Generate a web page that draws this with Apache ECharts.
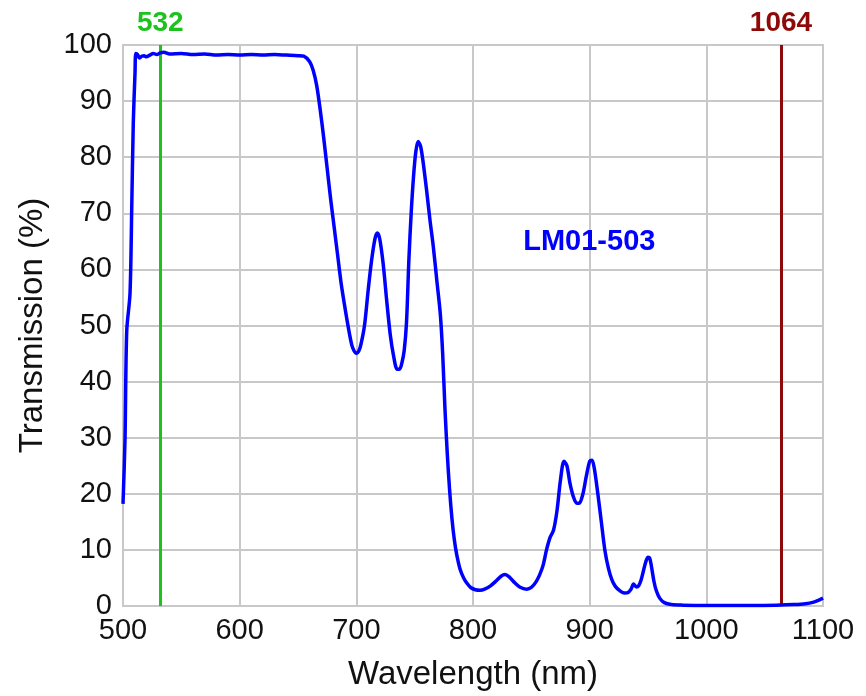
<!DOCTYPE html>
<html>
<head>
<meta charset="utf-8">
<script src="https://cdn.jsdelivr.net/npm/echarts@6/dist/echarts.min.js"></script>
<style>html,body{margin:0;padding:0;background:#fff;}#c{width:866px;height:696px;}</style>
</head>
<body>
<div id="c"></div>
<script>
var wavelengths = [500, 501.7, 503.2, 506, 507.5, 508.8, 510.3, 511, 512.5, 514, 516, 518, 520, 523, 526, 529, 532, 535, 540, 550, 560, 570, 580, 590, 600, 610, 620, 630, 640, 650, 655, 660, 663, 666, 669, 672, 675, 678, 681, 684, 687, 690, 693, 696, 698, 700, 702, 704, 707, 710, 713, 716, 718, 720, 723, 726, 729, 732, 735, 737, 739, 741, 743, 745, 747, 749, 751, 753, 755, 757, 760, 763, 766, 769, 772, 774, 776, 778, 780, 782, 784, 786, 789, 792, 795, 798, 802, 806, 810, 815, 820, 824, 827.5, 831, 835, 840, 846, 850, 854, 857, 860, 863, 866, 869, 872, 875, 878, 880.5, 883, 886, 889, 891, 894, 897, 900, 902, 904, 907, 910, 913, 916, 919, 922, 926, 930, 933, 935.5, 937.6, 940, 942, 944, 946, 948, 950, 951.5, 953, 955, 957, 960, 964, 970, 980, 1000, 1020, 1040, 1060, 1075, 1085, 1092, 1097, 1100];
var transmission = [18.2, 29.5, 49, 55.7, 71, 86, 95, 98.5, 98.3, 97.7, 98, 98.1, 97.9, 98.2, 98.5, 98.3, 98.6, 98.7, 98.4, 98.5, 98.3, 98.4, 98.2, 98.3, 98.2, 98.3, 98.2, 98.3, 98.2, 98.1, 98, 97, 95.5, 92.8, 88.5, 83.5, 78, 72.5, 67.5, 62.5, 57.5, 53.5, 49.8, 46.6, 45.5, 45, 45.4, 46.7, 50, 56, 61.5, 65.5, 66.5, 65.5, 61, 54.5, 48.5, 44.5, 42.2, 42.2, 43.3, 45.5, 50.5, 61.5, 70, 76.5, 81, 82.8, 82, 79.5, 74.5, 69, 64, 58, 52, 45, 35, 27, 20.5, 15.5, 11.8, 9.2, 6.5, 5, 4, 3.3, 2.9, 2.8, 3.0, 3.6, 4.5, 5.3, 5.6, 5.2, 4.3, 3.4, 3.0, 3.3, 4.3, 5.5, 7.2, 10, 12.2, 13.5, 17, 22.5, 25.8, 25, 22, 19.5, 18.3, 18.3, 19.8, 23, 25.8, 26, 24.5, 20, 15, 10, 6.8, 4.7, 3.5, 2.7, 2.3, 2.4, 3.0, 3.9, 3.4, 3.6, 4.6, 6.2, 7.8, 8.7, 8.5, 7, 4.5, 2.8, 1.4, 0.6, 0.25, 0.15, 0.1, 0.1, 0.1, 0.15, 0.25, 0.4, 0.7, 1.1, 1.4];
var laserLines = [532, 1064];
var laserLabels = ['532', '1064'];
var seriesName = 'LM01-503';
var xTicks = {min: 500, max: 1100, step: 100};
var yTicks = {min: 0, max: 100, step: 10};

var curve = wavelengths.map(function (w, i) { return [w, transmission[i]]; });
var laserColors = ['#1ec21e', '#8e0a0a'];
var chart = echarts.init(document.getElementById('c'), null, {renderer: 'canvas'});
var font = '"Liberation Sans", Arial, sans-serif';
chart.setOption({
  backgroundColor: '#fff',
  animation: false,
  grid: {left: 123, right: 43, top: 45, bottom: 89, show: true, borderColor: '#c8c8c8', borderWidth: 2},
  xAxis: {
    type: 'value', min: xTicks.min, max: xTicks.max, interval: xTicks.step,
    name: 'Wavelength (nm)', nameLocation: 'middle', nameGap: 52,
    nameTextStyle: {fontFamily: font, fontSize: 33, color: '#111'},
    axisLine: {show: true, lineStyle: {color: '#c8c8c8', width: 2}},
    axisTick: {show: false},
    axisLabel: {fontFamily: font, fontSize: 29, color: '#111', margin: 10,
                formatter: function (v) { return String(v); }},
    splitLine: {show: true, lineStyle: {color: '#c8c8c8', width: 2}}
  },
  yAxis: {
    type: 'value', min: yTicks.min, max: yTicks.max, interval: yTicks.step,
    name: 'Transmission (%)', nameLocation: 'middle', nameGap: 74,
    nameTextStyle: {fontFamily: font, fontSize: 33, color: '#111'},
    axisLine: {show: true, lineStyle: {color: '#c8c8c8', width: 2}},
    axisTick: {show: false},
    axisLabel: {fontFamily: font, fontSize: 29, color: '#111', margin: 11},
    splitLine: {show: true, lineStyle: {color: '#c8c8c8', width: 2}}
  },
  series: [{
    name: seriesName,
    type: 'line',
    data: curve,
    showSymbol: false,
    smooth: 0.3,
    lineStyle: {color: '#0000ff', width: 3.5},
    z: 5,
    markLine: {
      silent: true, symbol: 'none',
      data: laserLines.map(function (w, i) {
        return {
          xAxis: w,
          lineStyle: {color: laserColors[i], width: 3, type: 'solid'},
          label: {show: true, position: 'end', formatter: laserLabels[i], color: laserColors[i],
                  fontFamily: font, fontWeight: 'bold', fontSize: 28, distance: 8}
        };
      })
    },
    markPoint: {
      silent: true,
      symbol: 'circle', symbolSize: 0,
      data: [{coord: [899.7, 64.9], value: seriesName,
        label: {show: true, position: 'inside', formatter: seriesName, color: '#0000ff',
                fontFamily: font, fontWeight: 'bold', fontSize: 29}}]
    }
  }]
});
</script>
</body>
</html>
